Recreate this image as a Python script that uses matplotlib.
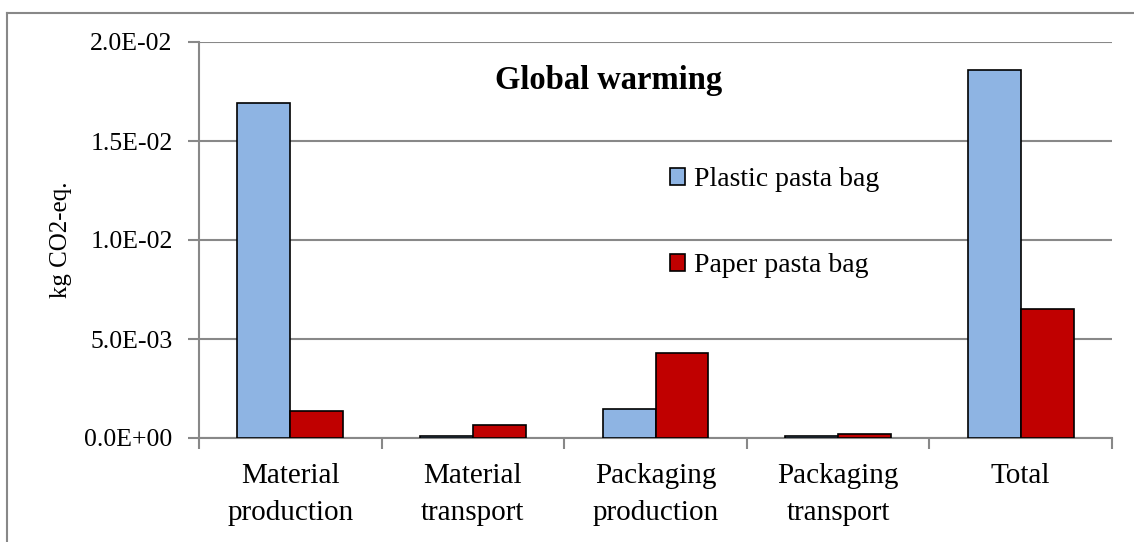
import matplotlib
matplotlib.use("Agg")
import matplotlib.pyplot as plt
import numpy as np
from matplotlib.lines import Line2D

categories = ["Material\nproduction", "Material\ntransport", "Packaging\nproduction",
              "Packaging\ntransport", "Total"]
plastic = [0.01692, 0.00010, 0.00145, 0.00010, 0.01858]
paper = [0.00138, 0.00068, 0.00430, 0.00019, 0.00652]
series_names = ["Plastic pasta bag", "Paper pasta bag"]
yticks = [0.0, 0.005, 0.010, 0.015, 0.020]
ytick_labels = ["0.0E+00", "5.0E-03", "1.0E-02", "1.5E-02", "2.0E-02"]

plt.rcParams['font.family'] = ['Liberation Serif', 'DejaVu Serif']

W, H = 1134, 542
fig = plt.figure(figsize=(W / 100, H / 100), dpi=100)
ax = fig.add_axes([199 / W, 1 - 438 / H, (1112 - 199) / W, (438 - 42) / H])

grey = "#888888"
x = np.arange(len(categories))
bw = 0.29
ax.bar(x - bw / 2, plastic, bw, color="#8EB4E3", edgecolor="black", linewidth=1.2,
       label=series_names[0], zorder=3)
ax.bar(x + bw / 2, paper, bw, color="#C00000", edgecolor="black", linewidth=1.2,
       label=series_names[1], zorder=3)

ax.set_xlim(-0.5, len(categories) - 0.5)
ax.set_ylim(0, 0.020)
ax.set_yticks(yticks)
ax.set_yticklabels(ytick_labels, fontsize=18.5)
ax.yaxis.grid(True, color=grey, linewidth=1.5, zorder=0)
ax.set_axisbelow(True)

ax.set_xticks(np.arange(len(categories) + 1) - 0.5)
ax.set_xticklabels([])
ax.set_xticks(x, minor=True)
ax.set_xticklabels(categories, minor=True, fontsize=21, linespacing=1.55)
ax.tick_params(axis='x', which='minor', length=0, pad=18)
ax.tick_params(axis='x', which='major', length=8, width=1.5, color=grey, direction='out')
ax.tick_params(axis='y', length=8, width=1.5, color=grey, direction='out', pad=11)

for s in ["top", "right"]:
    ax.spines[s].set_visible(False)
for s in ["left", "bottom"]:
    ax.spines[s].set_color(grey)
    ax.spines[s].set_linewidth(1.5)

ax.set_ylabel("kg CO2-eq.", fontsize=18)
ax.yaxis.set_label_coords(-0.139, 0.5)

fig.text(609 / W, 1 - 80 / H, "Global warming", fontsize=23.5, fontweight='bold',
         ha='center', va='center')

leg = ax.legend(loc='upper left', bbox_to_anchor=(670 / W, 1 - 167 / H),
                bbox_transform=fig.transFigure, frameon=False, fontsize=20,
                handlelength=0.55, handleheight=0.55, handletextpad=0.3,
                labelspacing=2.2, borderpad=0, borderaxespad=0)

# outer chart frame
fig.add_artist(Line2D([7 / W, 1], [1 - 13 / H, 1 - 13 / H], color=grey, linewidth=1.5,
                      transform=fig.transFigure))
fig.add_artist(Line2D([7 / W, 7 / W], [1 - 13 / H, 0], color=grey, linewidth=1.5,
                      transform=fig.transFigure))

fig.savefig("out.png", dpi=100, facecolor="white")
